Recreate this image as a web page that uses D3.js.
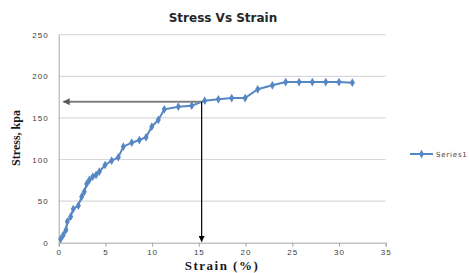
<!DOCTYPE html>
<meta charset="utf-8">
<head>
  <title>Stress Vs Strain</title>
  <style>
    body { margin: 0; background: #fff; }
  </style>
</head>

<script src="https://d3js.org/d3.v7.min.js"></script>

<div id="my_dataviz"></div>

<script>

// data
var strain = [0.21, 0.49, 0.78, 0.92, 1.28, 1.56, 2.1, 2.46, 2.74, 3.0, 3.28, 3.64, 4.0, 4.35,
              4.96, 5.67, 6.38, 6.92, 7.82, 8.63, 9.35, 9.96, 10.66, 11.3, 12.8, 14.24, 15.63,
              17.09, 18.52, 19.95, 21.3, 22.87, 24.3, 25.73, 27.15, 28.59, 30.0, 31.43];
var stress = [4.4, 9.3, 15.3, 25.2, 31.3, 40.5, 44.5, 55.3, 61.3, 70.6, 75.4, 79.3, 81.4, 85.3,
              93.4, 98.6, 102.6, 115.4, 120.2, 123.4, 126.7, 139.4, 147.5, 160.3, 163.5, 164.7, 170.7,
              172.4, 173.9, 173.9, 184.4, 189.2, 193.1, 193.1, 193.1, 193.1, 193.1, 192.3];
var xTicks = [0, 5, 10, 15, 20, 25, 30, 35];
var yTicks = [0, 50, 100, 150, 200, 250];
var seriesName = "Series1";

// annotation arrows (strain, stress)
var yieldPoint = [15.3, 169.5];
var hArrowEnd = [0.5, 169.5];
var vArrowEnd = [15.3, 1.5];

var data = strain.map(function(d, i) { return {x: d, y: stress[i]}; });

var W = 469, H = 273;
var margin = {top: 34.7, right: 83.3, bottom: 30.3, left: 58.7},
    width = W - margin.left - margin.right,
    height = H - margin.top - margin.bottom;

var svgRoot = d3.select("#my_dataviz")
  .append("svg")
    .attr("width", W)
    .attr("height", H)
    .style("font-family", "'DejaVu Sans', Verdana, sans-serif");

var defs = svgRoot.append("defs");
defs.append("marker")
    .attr("id", "headGray")
    .attr("viewBox", "0 0 10 10")
    .attr("refX", 9).attr("refY", 5)
    .attr("markerWidth", 4).attr("markerHeight", 3.5)
    .attr("markerUnits", "strokeWidth")
    .attr("orient", "auto")
  .append("path")
    .attr("d", "M0,0 L10,5 L0,10 z")
    .attr("fill", "#595959");
defs.append("marker")
    .attr("id", "headBlack")
    .attr("viewBox", "0 0 10 10")
    .attr("refX", 9).attr("refY", 5)
    .attr("markerWidth", 6).attr("markerHeight", 5)
    .attr("markerUnits", "strokeWidth")
    .attr("orient", "auto")
  .append("path")
    .attr("d", "M0,0 L10,5 L0,10 z")
    .attr("fill", "#000");

var svg = svgRoot.append("g")
    .attr("transform", "translate(" + margin.left + "," + margin.top + ")");

var x = d3.scaleLinear().domain([0, 35]).range([0, width]);
var y = d3.scaleLinear().domain([0, 250]).range([height, 0]);

// gridlines
svg.append("g")
  .selectAll("line")
  .data(yTicks.filter(function(d) { return d > 0; }))
  .enter().append("line")
    .attr("x1", 0).attr("x2", width)
    .attr("y1", function(d) { return y(d); })
    .attr("y2", function(d) { return y(d); })
    .attr("stroke", "#d9d9d9")
    .attr("stroke-width", 1.2);

// X axis
var xAxis = svg.append("g")
    .attr("transform", "translate(0," + height + ")")
    .call(d3.axisBottom(x).tickValues(xTicks).tickSize(4).tickPadding(3));
xAxis.select(".domain").attr("stroke", "#a6a6a6");
xAxis.selectAll(".tick line").attr("stroke", "#a6a6a6");
xAxis.selectAll("text")
    .attr("fill", "#404040")
    .style("font-size", "8px")
    .style("letter-spacing", "1px");

// Y axis
var yAxis = svg.append("g")
    .call(d3.axisLeft(y).tickValues(yTicks).tickSize(0).tickPadding(10));
yAxis.select(".domain").attr("stroke", "#a6a6a6");
yAxis.selectAll("text")
    .attr("fill", "#404040")
    .style("font-size", "8px")
    .style("letter-spacing", "1px");

// the line
var blue = "#5587c4";
svg.append("path")
  .datum(data)
  .attr("fill", "none")
  .attr("stroke", blue)
  .attr("stroke-width", 2)
  .attr("d", d3.line()
    .x(function(d) { return x(d.x); })
    .y(function(d) { return y(d.y); }));

var diamond = d3.symbol().type(d3.symbolDiamond).size(22);
svg.append("g")
  .selectAll("path")
  .data(data)
  .enter().append("path")
    .attr("d", diamond)
    .attr("transform", function(d) { return "translate(" + x(d.x) + "," + y(d.y) + ")"; })
    .attr("fill", blue);

// arrows
svg.append("line")
    .attr("x1", x(yieldPoint[0])).attr("y1", y(yieldPoint[1]))
    .attr("x2", x(hArrowEnd[0])).attr("y2", y(hArrowEnd[1]))
    .attr("stroke", "#808080")
    .attr("stroke-width", 2)
    .attr("marker-end", "url(#headGray)");
svg.append("line")
    .attr("x1", x(yieldPoint[0])).attr("y1", y(yieldPoint[1]))
    .attr("x2", x(vArrowEnd[0])).attr("y2", y(vArrowEnd[1]))
    .attr("stroke", "#000")
    .attr("stroke-width", 1.2)
    .attr("marker-end", "url(#headBlack)");

// title
svgRoot.append("text")
    .attr("x", 223)
    .attr("y", 22)
    .style("text-anchor", "middle")
    .style("font-weight", "bold")
    .style("font-size", "12px")
    .attr("fill", "#262626")
    .text("Stress Vs Strain");

// axis labels
svgRoot.append("text")
    .attr("x", 222)
    .attr("y", 270)
    .style("text-anchor", "middle")
    .style("font-family", "'Liberation Serif', 'Times New Roman', serif")
    .style("font-weight", "bold")
    .style("font-size", "13px")
    .style("letter-spacing", "1.5px")
    .attr("fill", "#1a1a1a")
    .text("Strain (%)");

svgRoot.append("text")
    .attr("transform", "translate(20,138) rotate(-90)")
    .style("text-anchor", "middle")
    .style("font-family", "'Liberation Serif', 'Times New Roman', serif")
    .style("font-size", "12px")
    .style("font-weight", "bold")
    .attr("fill", "#1a1a1a")
    .text("Stress, kpa");

// legend
var legend = svgRoot.append("g").attr("transform", "translate(410,154)");
legend.append("line")
    .attr("x1", 0).attr("x2", 23)
    .attr("stroke", blue)
    .attr("stroke-width", 2);
legend.append("path")
    .attr("d", diamond)
    .attr("transform", "translate(11.5,0)")
    .attr("fill", blue);
legend.append("text")
    .attr("x", 26)
    .attr("y", 3)
    .style("font-size", "7px")
    .style("letter-spacing", "0.8px")
    .attr("fill", "#404040")
    .text(seriesName);

</script>
